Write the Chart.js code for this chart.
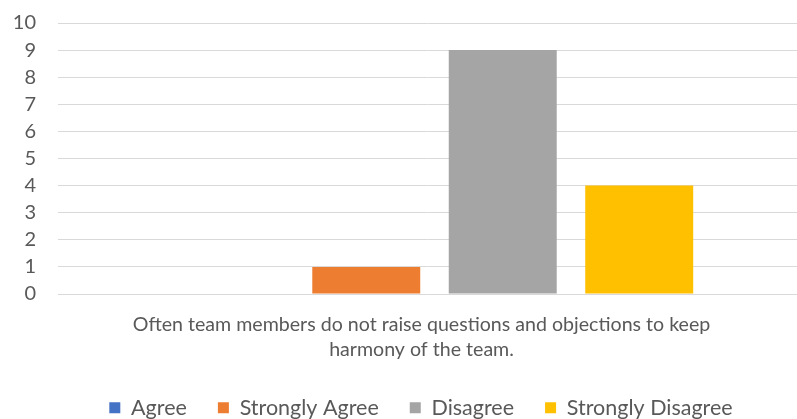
<!DOCTYPE html>
<html>
<head>
<meta charset="utf-8">
<script src="https://cdn.jsdelivr.net/npm/chart.js@4"></script>
<style>
  body { margin: 0; background: #fff; }
  #wrap { width: 797px; height: 419px; }
</style>
</head>
<body>
<div id="wrap"><canvas id="chart"></canvas></div>
<script>
var categories = [["Often team members do not raise questions and objections to keep", "harmony of the team."]];
var seriesNames = ["Agree", "Strongly Agree", "Disagree", "Strongly Disagree"];
var seriesValues = [[0], [1], [9], [4]];
var colors = ["#4472c4", "#ed7d31", "#a5a5a5", "#ffc000"];

var datasets = [];
for (var i = 0; i < seriesNames.length; i++) {
  datasets.push({
    label: seriesNames[i],
    data: seriesValues[i],
    backgroundColor: colors[i],
    categoryPercentage: 0.725,
    barPercentage: 0.791
  });
}

var font = "Lato, 'Open Sans', sans-serif";

// excel-ish layout: legend closer to the bottom, plot a bit wider on the right
var tweak = {
  id: 'tweak',
  beforeLayout: function (chart) {
    var lg = chart.legend;
    if (lg && !lg.patched) {
      var fit = lg.fit;
      lg.fit = function () { fit.call(this); this.height = 53; };
      lg.patched = true;
    }
  },
  afterLayout: function (chart) {
    var x = chart.scales.x;
    x.right += 14;
    x.width += 14;
    x.configure();
    chart.chartArea.right = chart.width;
    chart.legend.left += 22.5;
    chart.legend.right += 22.5;
  }
};

new Chart(document.getElementById("chart"), {
  type: 'bar',
  data: { labels: categories, datasets: datasets },
  plugins: [tweak],
  options: {
    responsive: true,
    maintainAspectRatio: false,
    animation: false,
    layout: { padding: { top: 23, right: 0, left: 0, bottom: 0 } },
    scales: {
      x: {
        afterFit: function (scale) { scale.height = 72; scale.paddingLeft = 0; scale.paddingRight = 0; },
        grid: { display: false },
        border: { display: false },
        ticks: {
          color: '#595959',
          font: { family: font, size: 19.6, lineHeight: 1.2755 },
          padding: 10,
          labelOffset: -13
        }
      },
      y: {
        min: 0,
        max: 10,
        afterFit: function (scale) { scale.width = 58; scale.paddingTop = 0; scale.paddingBottom = 0; },
        grid: { color: '#d9d9d9', drawTicks: false },
        border: { display: false },
        ticks: { stepSize: 1, autoSkip: false, color: '#595959', font: { family: font, size: 20 }, padding: 22 }
      }
    },
    plugins: {
      legend: {
        position: 'bottom',
        labels: {
          boxWidth: 11,
          boxHeight: 11,
          padding: 31,
          color: '#595959',
          font: { family: font, size: 21.5 }
        }
      },
      tooltip: { enabled: false }
    }
  }
});
</script>
</body>
</html>
